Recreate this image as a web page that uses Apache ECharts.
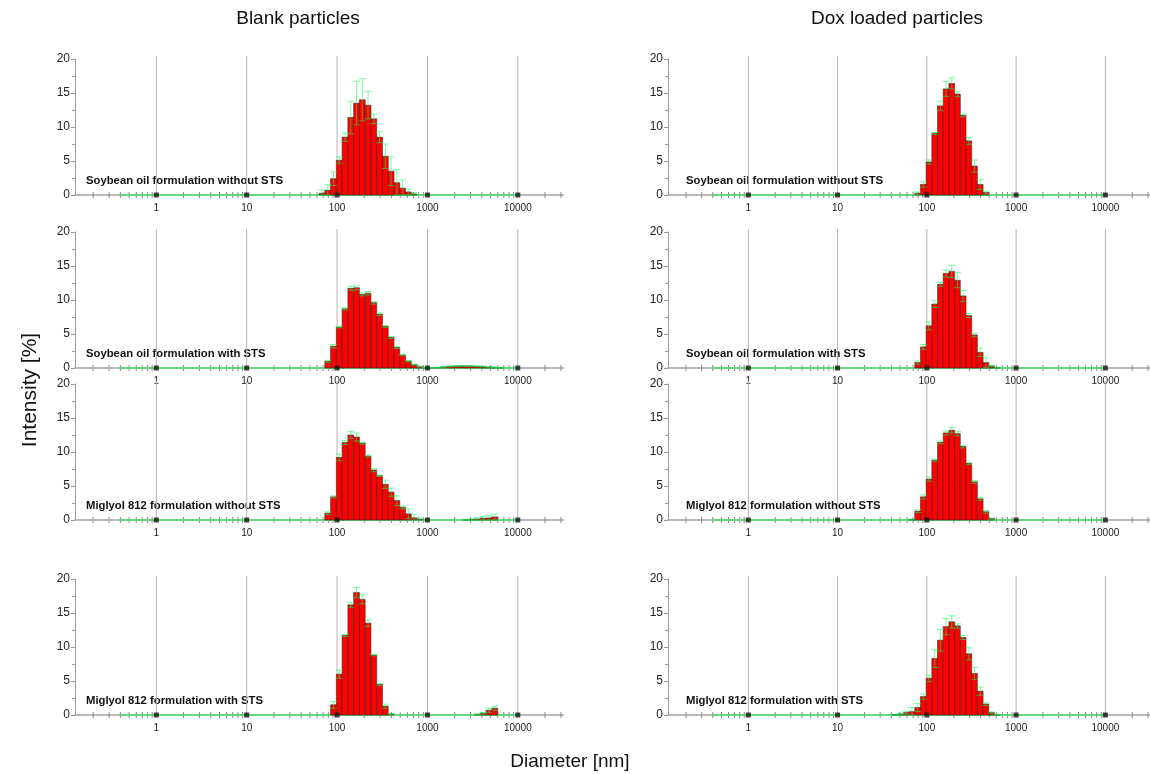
<!DOCTYPE html>
<html><head><meta charset="utf-8">
<script src="https://cdn.jsdelivr.net/npm/echarts@6/dist/echarts.min.js"></script>
<style>html,body{margin:0;padding:0;background:#fff}#c{width:1150px;height:774px}</style>
</head><body><div id="c"></div>
<script>
// ---------- size classes (nm) ----------
const sizes = [0.4,0.4632,0.5365,0.6213,0.7195,0.8332,0.9649,1.117,1.294,1.499,1.736,2.010,2.328,2.696,3.122,3.615,4.187,4.849,5.615,6.503,7.531,8.721,10.10,11.70,13.54,15.69,18.17,21.04,24.36,28.21,32.67,37.84,43.82,50.75,58.77,68.06,78.82,91.28,105.7,122.4,141.8,164.2,190.1,220.2,255.0,295.3,342.0,396.1,458.7,531.2,615.1,712.4,825.0,955.4,1106,1281,1484,1718,1990,2305,2669,3091,3580,4145,4801,5560,6439,7456,8635,10000];

const xTickValues = [1, 10, 100, 1000, 10000];
const xTickLabels = ['1', '10', '100', '1000', '10000'];

const columnTitles = ['Blank particles', 'Dox loaded particles'];
const panelLabels = ['Soybean oil formulation without STS', 'Soybean oil formulation with STS',
  'Miglyol 812 formulation without STS', 'Miglyol 812 formulation with STS'];
const yAxisTitle = 'Intensity [%]';
const xAxisTitle = 'Diameter [nm]';

// ---------- Blank, soybean oil without STS ----------
const blankSoyNo_size = [68.06,78.82,91.28,105.7,122.4,141.8,164.2,190.1,220.2,255.0,295.3,342.0,396.1,458.7,531.2,615.1,712.4];
const blankSoyNo_mean = [0.25,0.7,2.4,5.1,8.5,11.4,13.5,14.0,13.2,11.2,8.5,5.7,3.5,1.8,1.0,0.45,0.15];
const blankSoyNo_sd   = [0.5,0.8,1.0,0.5,0.6,2.4,3.2,3.1,2.0,0.7,0.8,1.8,2.1,1.9,1.2,0.4,0.2];
// ---------- Dox, soybean oil without STS ----------
const doxSoyNo_size = [78.82,91.28,105.7,122.4,141.8,164.2,190.1,220.2,255.0,295.3,342.0,396.1,458.7];
const doxSoyNo_mean = [0.25,1.55,4.85,9.05,13.1,15.6,16.4,14.85,11.7,7.95,4.25,1.55,0.35];
const doxSoyNo_sd   = [0.2,0.4,0.3,0.15,0.7,1.1,0.8,0.4,0.2,0.5,0.9,0.75,0.2];
// ---------- Blank, soybean oil with STS ----------
const blankSoySts_size = [78.82,91.28,105.7,122.4,141.8,164.2,190.1,220.2,255.0,295.3,342.0,396.1,458.7,531.2,615.1,712.4,825.0,955.4,1106,1281,1484,1718,1990,2305,2669,3091,3580,4145,4801,5560,6439];
const blankSoySts_mean = [0.98,3.2,6.0,8.7,11.7,11.8,10.8,11.0,9.6,7.9,6.1,4.5,3.0,1.9,1.0,0.5,0.2,0.05,0.03,0.08,0.15,0.22,0.28,0.3,0.3,0.28,0.25,0.2,0.15,0.1,0.03];
const blankSoySts_sd   = [0.15,0.25,0.1,0.15,0.3,0.3,0.2,0.25,0.2,0.2,0.15,0.15,0.15,0.1,0.1,0.05,0.05,0.02,0.02,0.03,0.05,0.05,0.06,0.06,0.06,0.06,0.05,0.05,0.04,0.03,0.01];
// ---------- Dox, soybean oil with STS ----------
const doxSoySts_size = [78.82,91.28,105.7,122.4,141.8,164.2,190.1,220.2,255.0,295.3,342.0,396.1,458.7,531.2,615.1];
const doxSoySts_mean = [0.8,3.1,6.2,9.4,12.3,13.9,14.2,12.9,10.6,7.7,4.85,2.3,0.8,0.3,0.05];
const doxSoySts_sd   = [0.25,0.35,0.6,0.5,0.3,0.5,0.9,1.1,0.8,0.3,0.25,0.6,0.7,0.1,0.05];
// ---------- Blank, Miglyol 812 without STS ----------
const blankMigNo_size = [78.82,91.28,105.7,122.4,141.8,164.2,190.1,220.2,255.0,295.3,342.0,396.1,458.7,531.2,615.1,712.4,825.0,2669,3091,3580,4145,4801,5560];
const blankMigNo_mean = [1.0,3.4,9.2,11.4,12.5,12.2,11.3,9.4,7.35,6.5,5.25,4.1,2.85,1.85,0.9,0.3,0.1,0.03,0.08,0.15,0.25,0.3,0.45];
const blankMigNo_sd   = [0.2,0.15,0.5,0.3,0.5,0.6,0.15,0.15,0.25,0.1,0.6,0.6,0.7,0.2,0.7,0.5,0.2,0.05,0.1,0.2,0.3,0.35,0.4];
// ---------- Dox, Miglyol 812 without STS ----------
const doxMigNo_size = [68.06,78.82,91.28,105.7,122.4,141.8,164.2,190.1,220.2,255.0,295.3,342.0,396.1,458.7,531.2];
const doxMigNo_mean = [0.1,1.3,3.4,6.0,8.8,11.4,12.8,13.2,12.7,10.8,8.3,5.6,3.1,1.2,0.2];
const doxMigNo_sd   = [0.05,0.2,0.3,0.3,0.15,0.2,0.3,0.4,0.3,0.2,0.15,0.2,0.2,0.2,0.1];
// ---------- Blank, Miglyol 812 with STS ----------
const blankMigSts_size = [91.28,105.7,122.4,141.8,164.2,190.1,220.2,255.0,295.3,342.0,396.1,3580,4145,4801,5560];
const blankMigSts_mean = [1.5,6.0,11.7,16.2,18.0,17.0,13.5,8.8,4.5,1.3,0.15,0.1,0.25,0.7,1.0];
const blankMigSts_sd   = [0.5,0.6,0.15,0.35,0.75,0.65,0.5,0.1,0.15,0.3,0.05,0.05,0.1,0.3,0.3];
// ---------- Dox, Miglyol 812 with STS ----------
const doxMigSts_size = [43.82,50.75,58.77,68.06,78.82,91.28,105.7,122.4,141.8,164.2,190.1,220.2,255.0,295.3,342.0,396.1,458.7,531.2,615.1];
const doxMigSts_mean = [0.05,0.15,0.35,0.5,1.1,2.7,5.4,8.3,11.0,13.0,13.7,13.1,11.4,9.0,6.1,3.5,1.6,0.35,0.05];
const doxMigSts_sd   = [0.05,0.1,0.2,0.6,0.6,0.4,0.5,1.3,1.6,1.2,0.9,0.3,0.3,0.9,0.9,0.6,0.2,0.1,0.05];

const panels = [
  {col:0,row:0,size:blankSoyNo_size,mean:blankSoyNo_mean,sd:blankSoyNo_sd},
  {col:1,row:0,size:doxSoyNo_size,mean:doxSoyNo_mean,sd:doxSoyNo_sd},
  {col:0,row:1,size:blankSoySts_size,mean:blankSoySts_mean,sd:blankSoySts_sd},
  {col:1,row:1,size:doxSoySts_size,mean:doxSoySts_mean,sd:doxSoySts_sd},
  {col:0,row:2,size:blankMigNo_size,mean:blankMigNo_mean,sd:blankMigNo_sd},
  {col:1,row:2,size:doxMigNo_size,mean:doxMigNo_mean,sd:doxMigNo_sd},
  {col:0,row:3,size:blankMigSts_size,mean:blankMigSts_mean,sd:blankMigSts_sd},
  {col:1,row:3,size:doxMigSts_size,mean:doxMigSts_mean,sd:doxMigSts_sd}
];

// ---------- layout ----------
const colLeft = [75, 668];
const gridWidth = 488;
const rowTop = [59, 232, 384, 579];
const gridHeight = 136;
const labelX = [86, 686];
const X_MIN = -0.9, X_MAX = 4.5;
const FONT = '"Liberation Sans", Arial, sans-serif';

const L = v => Math.log10(v);
const binW = (L(sizes[sizes.length - 1]) - L(sizes[0])) / (sizes.length - 1);

const minorTicks = [];
for (let k = -1; k <= 4; k++) for (let m = 2; m <= 9; m++) {
  const lv = k + Math.log10(m);
  if (lv > X_MIN && lv < X_MAX) minorTicks.push([lv, 0]);
}

const grids = [], xAxes = [], yAxes = [], series = [], graphics = [];
panels.forEach((p, i) => {
  grids.push({left: colLeft[p.col], top: rowTop[p.row], width: gridWidth, height: gridHeight});
  xAxes.push({
    type: 'value', gridIndex: i, min: X_MIN, max: X_MAX,
    axisLine: {show: true, onZero: false, lineStyle: {color: '#b8b8b8', width: 2}},
    axisTick: {show: false}, splitLine: {show: false},
    axisLabel: {
      customValues: xTickValues.map(L), margin: 8, fontSize: 10, color: '#222', fontFamily: FONT,
      formatter: v => { const j = xTickValues.findIndex(t => Math.abs(L(t) - v) < 1e-6); return j >= 0 ? xTickLabels[j] : ''; }
    }
  });
  yAxes.push({
    type: 'value', gridIndex: i, min: 0, max: 20, interval: 5,
    axisLine: {show: true, onZero: false, lineStyle: {color: '#999', width: 1}},
    axisTick: {show: true, length: 4, lineStyle: {color: '#999'}},
    minorTick: {show: true, splitNumber: 2, length: 3, lineStyle: {color: '#999'}},
    splitLine: {show: false},
    axisLabel: {fontSize: 12, color: '#222', margin: 5, fontFamily: FONT}
  });
  // vertical grid lines at decades
  series.push({
    type: 'custom', xAxisIndex: i, yAxisIndex: i, z: 1, silent: true,
    data: xTickValues.map(v => [L(v), 0]),
    renderItem: (params, api) => {
      const a = api.coord([api.value(0), 0]);
      const b = api.coord([api.value(0), 20]);
      return {type: 'line', shape: {x1: a[0], y1: a[1], x2: b[0], y2: b[1] - 3},
        style: {stroke: '#b4b4b4', lineWidth: 1}};
    }
  });
  // minor ticks crossing the x axis
  series.push({
    type: 'custom', xAxisIndex: i, yAxisIndex: i, z: 3, silent: true,
    data: minorTicks,
    renderItem: (params, api) => {
      const a = api.coord([api.value(0), 0]);
      return {type: 'line', shape: {x1: a[0], y1: a[1] - 3, x2: a[0], y2: a[1] + 3},
        style: {stroke: '#8a8a8a', lineWidth: 1}};
    }
  });
  // green baseline of the measurement range
  series.push({
    type: 'line', xAxisIndex: i, yAxisIndex: i, z: 3, silent: true, symbol: 'none',
    data: [[L(sizes[0]), 0], [L(sizes[sizes.length - 1]), 0]],
    lineStyle: {color: 'rgba(40,240,90,0.6)', width: 2}
  });
  // histogram bars
  series.push({
    type: 'custom', xAxisIndex: i, yAxisIndex: i, z: 4, silent: true,
    data: p.size.map((s, j) => [L(s), p.mean[j]]),
    renderItem: (params, api) => {
      const a = api.coord([api.value(0) - binW / 2, api.value(1)]);
      const b = api.coord([api.value(0) + binW / 2, 0]);
      return {type: 'rect', shape: {x: a[0], y: a[1], width: b[0] - a[0], height: b[1] - a[1]},
        style: {fill: '#ff0000', stroke: '#3a2020', lineWidth: 0.6}};
    }
  });
  // error bars
  series.push({
    type: 'custom', xAxisIndex: i, yAxisIndex: i, z: 5, silent: true,
    data: p.size.map((s, j) => [L(s), p.mean[j], p.sd[j]]),
    renderItem: (params, api) => {
      const x = api.value(0), m = api.value(1), e = api.value(2);
      const top = api.coord([x, m + e]);
      const bot = api.coord([x, Math.max(0, m - e)]);
      const hw = 3.5;
      const st = {stroke: 'rgba(0,255,80,0.55)', lineWidth: 1};
      return {type: 'group', children: [
        {type: 'line', shape: {x1: top[0], y1: top[1], x2: bot[0], y2: bot[1]}, style: st},
        {type: 'line', shape: {x1: top[0] - hw, y1: top[1], x2: top[0] + hw, y2: top[1]}, style: st},
        {type: 'line', shape: {x1: bot[0] - hw, y1: bot[1], x2: bot[0] + hw, y2: bot[1]}, style: st}
      ]};
    }
  });
  // black square markers at decades
  series.push({
    type: 'scatter', xAxisIndex: i, yAxisIndex: i, z: 6, silent: true,
    symbol: 'rect', symbolSize: 5, itemStyle: {color: '#111'},
    data: xTickValues.map(v => [L(v), 0])
  });
  graphics.push({
    type: 'text', left: labelX[p.col], top: rowTop[p.row] + gridHeight - 20,
    style: {text: panelLabels[p.row], font: 'bold 11.3px ' + FONT, fill: '#111'}
  });
});

graphics.push({type: 'text', x: 298, y: 19, style: {text: columnTitles[0], font: '19px ' + FONT, fill: '#111', textAlign: 'center', textVerticalAlign: 'middle'}});
graphics.push({type: 'text', x: 897, y: 19, style: {text: columnTitles[1], font: '19px ' + FONT, fill: '#111', textAlign: 'center', textVerticalAlign: 'middle'}});
graphics.push({type: 'text', x: 30, y: 390, rotation: Math.PI / 2, style: {text: yAxisTitle, font: '21px ' + FONT, fill: '#111', textAlign: 'center', textVerticalAlign: 'middle'}});
graphics.push({type: 'text', x: 570, y: 762, style: {text: xAxisTitle, font: '19px ' + FONT, fill: '#111', textAlign: 'center', textVerticalAlign: 'middle'}});

const chart = echarts.init(document.getElementById('c'), null, {renderer: 'canvas'});
chart.setOption({
  backgroundColor: '#fff', animation: false,
  grid: grids, xAxis: xAxes, yAxis: yAxes, series: series, graphic: graphics
});
</script></body></html>
